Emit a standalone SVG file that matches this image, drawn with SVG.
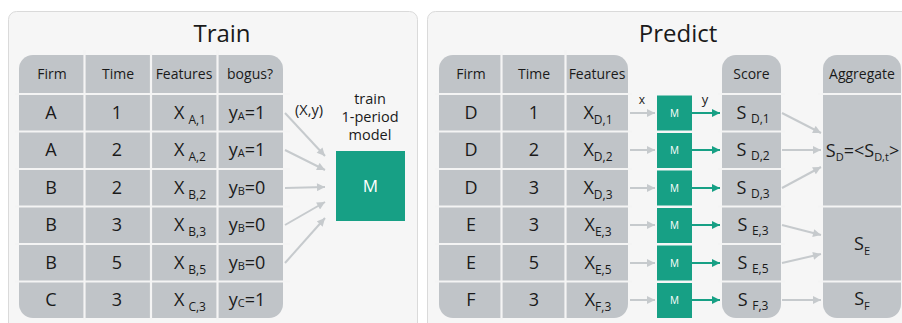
<svg xmlns="http://www.w3.org/2000/svg" width="902" height="323" viewBox="0 0 902 323">
<defs>
<marker id="ag" viewBox="0 0 10 10" refX="10" refY="5" markerWidth="9" markerHeight="8" markerUnits="userSpaceOnUse" orient="auto"><path d="M0,0 L10,5 L0,10 z" fill="#c6cacd"/></marker>
<marker id="at" viewBox="0 0 10 10" refX="10" refY="5" markerWidth="9" markerHeight="8" markerUnits="userSpaceOnUse" orient="auto"><path d="M0,0 L10,5 L0,10 z" fill="#17a085"/></marker>
</defs>
<style>
text{font-family:"Open Sans","Noto Sans","Liberation Sans",sans-serif;fill:#1a1a1a;text-anchor:middle}
.panel{fill:#f6f6f6;stroke:#dadada;stroke-width:1}
.cell{fill:#c0c4c8}
.sep{stroke:#f4f4f4;stroke-width:2.2}
.title{font-size:24px}
.hd{font-size:14px}
.v{font-size:18px}
.sub{font-size:12px}
.ys{font-size:11px}
.lbl{font-size:14.5px}
.m{fill:#17a085}
.mt{fill:#ffffff}
.ga{stroke:#c6cacd;stroke-width:2;fill:none;marker-end:url(#ag)}
.ta{stroke:#17a085;stroke-width:2;fill:none;marker-end:url(#at)}
</style>
<rect x="0" y="0" width="902" height="323" fill="#ffffff"/>

<g id="train-panel">
<rect class="panel" x="8.5" y="11.5" width="409" height="325" rx="8"/>
<text class="title" x="222" y="42">Train</text>
</g>

<g id="train-table">
<rect class="cell" x="19" y="55" width="264" height="263" rx="14"/>
<line class="sep" x1="84.5" y1="50" x2="84.5" y2="320"/>
<line class="sep" x1="151" y1="50" x2="151" y2="320"/>
<line class="sep" x1="217.5" y1="50" x2="217.5" y2="320"/>
<line class="sep" x1="15" y1="94" x2="290" y2="94"/>
<line class="sep" x1="15" y1="131.5" x2="290" y2="131.5"/>
<line class="sep" x1="15" y1="169" x2="290" y2="169"/>
<line class="sep" x1="15" y1="206.5" x2="290" y2="206.5"/>
<line class="sep" x1="15" y1="244" x2="290" y2="244"/>
<line class="sep" x1="15" y1="281.5" x2="290" y2="281.5"/>
<text class="hd" x="52" y="79">Firm</text>
<text class="hd" x="118" y="79">Time</text>
<text class="hd" x="184" y="79">Features</text>
<text class="hd" x="250" y="79">bogus?</text>
<g class="v">
<text x="51" y="119">A</text><text x="117" y="119">1</text>
<text x="51" y="156">A</text><text x="117" y="156">2</text>
<text x="51" y="194">B</text><text x="117" y="194">2</text>
<text x="51" y="231">B</text><text x="117" y="231">3</text>
<text x="51" y="269">B</text><text x="117" y="269">5</text>
<text x="51" y="306">C</text><text x="117" y="306">3</text>
</g>
<g class="v">
<text x="190" y="119">X<tspan class="sub" dx="4" dy="5">A,1</tspan></text>
<text x="190" y="156">X<tspan class="sub" dx="4" dy="5">A,2</tspan></text>
<text x="190" y="194">X<tspan class="sub" dx="4" dy="5">B,2</tspan></text>
<text x="190" y="231">X<tspan class="sub" dx="4" dy="5">B,3</tspan></text>
<text x="190" y="269">X<tspan class="sub" dx="4" dy="5">B,5</tspan></text>
<text x="190" y="306">X<tspan class="sub" dx="4" dy="5">C,3</tspan></text>
<text x="247" y="119">y<tspan class="ys" dy="1">A</tspan><tspan dy="-1">=1</tspan></text>
<text x="247" y="156">y<tspan class="ys" dy="1">A</tspan><tspan dy="-1">=1</tspan></text>
<text x="247" y="194">y<tspan class="ys" dy="1">B</tspan><tspan dy="-1">=0</tspan></text>
<text x="247" y="231">y<tspan class="ys" dy="1">B</tspan><tspan dy="-1">=0</tspan></text>
<text x="247" y="269">y<tspan class="ys" dy="1">B</tspan><tspan dy="-1">=0</tspan></text>
<text x="247" y="306">y<tspan class="ys" dy="1">C</tspan><tspan dy="-1">=1</tspan></text>
</g>
</g>

<g id="train-model">
<text class="lbl" x="370" y="104">train</text>
<text class="lbl" x="370" y="122">1-period</text>
<text class="lbl" x="370" y="140">model</text>
<rect class="m" x="336" y="151" width="69" height="70"/>
<text class="mt" x="370.5" y="192" style="font-size:17px">M</text>
<text class="lbl" x="309" y="115">(X,y)</text>
</g>

<g id="predict-panel">
<rect class="panel" x="427.5" y="11.5" width="490" height="325" rx="8"/>
<text class="title" x="678" y="42">Predict</text>
</g>

<g id="predict-table">
<rect class="cell" x="439" y="55" width="189" height="263" rx="14"/>
<line class="sep" x1="501.5" y1="50" x2="501.5" y2="320"/>
<line class="sep" x1="565.5" y1="50" x2="565.5" y2="320"/>
<line class="sep" x1="435" y1="94" x2="632" y2="94"/>
<line class="sep" x1="435" y1="131.5" x2="632" y2="131.5"/>
<line class="sep" x1="435" y1="169" x2="632" y2="169"/>
<line class="sep" x1="435" y1="206.5" x2="632" y2="206.5"/>
<line class="sep" x1="435" y1="244" x2="632" y2="244"/>
<line class="sep" x1="435" y1="281.5" x2="632" y2="281.5"/>
<text class="hd" x="471" y="79">Firm</text>
<text class="hd" x="534" y="79">Time</text>
<text class="hd" x="597" y="79">Features</text>
<g class="v">
<text x="471" y="119">D</text><text x="534" y="119">1</text>
<text x="471" y="156">D</text><text x="534" y="156">2</text>
<text x="471" y="194">D</text><text x="534" y="194">3</text>
<text x="471" y="231">E</text><text x="534" y="231">3</text>
<text x="471" y="269">E</text><text x="534" y="269">5</text>
<text x="471" y="306">F</text><text x="534" y="306">3</text>
<text x="598" y="119">X<tspan class="sub" dy="5">D,1</tspan></text>
<text x="598" y="156">X<tspan class="sub" dy="5">D,2</tspan></text>
<text x="598" y="194">X<tspan class="sub" dy="5">D,3</tspan></text>
<text x="598" y="231">X<tspan class="sub" dy="5">E,3</tspan></text>
<text x="598" y="269">X<tspan class="sub" dy="5">E,5</tspan></text>
<text x="598" y="306">X<tspan class="sub" dy="5">F,3</tspan></text>
</g>
</g>

<g id="predict-models">
<rect class="m" x="657" y="95.5" width="35" height="35"/>
<rect class="m" x="657" y="133" width="35" height="35"/>
<rect class="m" x="657" y="170.5" width="35" height="35"/>
<rect class="m" x="657" y="208" width="35" height="35"/>
<rect class="m" x="657" y="245.5" width="35" height="35"/>
<rect class="m" x="657" y="283" width="35" height="35"/>
<g style="font-size:10px">
<text class="mt" x="674.5" y="117">M</text>
<text class="mt" x="674.5" y="154">M</text>
<text class="mt" x="674.5" y="192">M</text>
<text class="mt" x="674.5" y="229">M</text>
<text class="mt" x="674.5" y="267">M</text>
<text class="mt" x="674.5" y="304">M</text>
</g>
<text x="642" y="104" style="font-size:12px">x</text>
<text x="705" y="104" style="font-size:13px">y</text>
</g>

<g id="score">
<rect class="cell" x="722" y="55" width="59" height="263" rx="14"/>
<line class="sep" x1="718" y1="94" x2="785" y2="94"/>
<line class="sep" x1="718" y1="131.5" x2="785" y2="131.5"/>
<line class="sep" x1="718" y1="169" x2="785" y2="169"/>
<line class="sep" x1="718" y1="206.5" x2="785" y2="206.5"/>
<line class="sep" x1="718" y1="244" x2="785" y2="244"/>
<line class="sep" x1="718" y1="281.5" x2="785" y2="281.5"/>
<text class="hd" x="751.5" y="79">Score</text>
<g class="v">
<text x="753" y="119">S <tspan class="sub" dy="4">D,1</tspan></text>
<text x="753" y="156">S <tspan class="sub" dy="4">D,2</tspan></text>
<text x="753" y="194">S <tspan class="sub" dy="4">D,3</tspan></text>
<text x="753" y="231">S <tspan class="sub" dy="4">E,3</tspan></text>
<text x="753" y="269">S <tspan class="sub" dy="4">E,5</tspan></text>
<text x="753" y="306">S <tspan class="sub" dy="4">F,3</tspan></text>
</g>
</g>

<g id="aggregate">
<rect class="cell" x="823" y="55" width="78" height="263" rx="14"/>
<line class="sep" x1="818" y1="94" x2="905" y2="94"/>
<line class="sep" x1="818" y1="206.5" x2="905" y2="206.5"/>
<line class="sep" x1="818" y1="281.5" x2="905" y2="281.5"/>
<text class="hd" x="862" y="79">Aggregate</text>
<g class="v">
<text x="862.5" y="157">S<tspan class="ys" dy="4">D</tspan><tspan dy="-4">=&lt;S</tspan><tspan class="ys" dy="4">D,t</tspan><tspan dy="-4">&gt;</tspan></text>
<text x="862" y="250">S<tspan class="ys" dy="5">E</tspan></text>
<text x="862" y="305">S<tspan class="ys" dy="5">F</tspan></text>
</g>
</g>

<g id="connectors">
<path class="ga" d="M285,113 L325,156"/>
<path class="ga" d="M285,150 L325,170"/>
<path class="ga" d="M285,188 L325,187"/>
<path class="ga" d="M285,225 L325,202"/>
<path class="ga" d="M285,263 L325,218"/>
<path class="ga" d="M630,113 L655,113"/>
<path class="ga" d="M630,150 L655,150"/>
<path class="ga" d="M630,188 L655,188"/>
<path class="ga" d="M630,225 L655,225"/>
<path class="ga" d="M630,263 L655,263"/>
<path class="ga" d="M630,300 L655,300"/>
<path class="ta" d="M692,113 L720,113"/>
<path class="ta" d="M692,150 L720,150"/>
<path class="ta" d="M692,188 L720,188"/>
<path class="ta" d="M692,225 L720,225"/>
<path class="ta" d="M692,263 L720,263"/>
<path class="ta" d="M692,300 L720,300"/>
<path class="ga" d="M782,113 L821,133"/>
<path class="ga" d="M782,150 L821,150"/>
<path class="ga" d="M782,188 L821,167"/>
<path class="ga" d="M782,225 L821,235"/>
<path class="ga" d="M782,263 L821,254"/>
<path class="ga" d="M782,300 L821,300"/>
</g>
</svg>
